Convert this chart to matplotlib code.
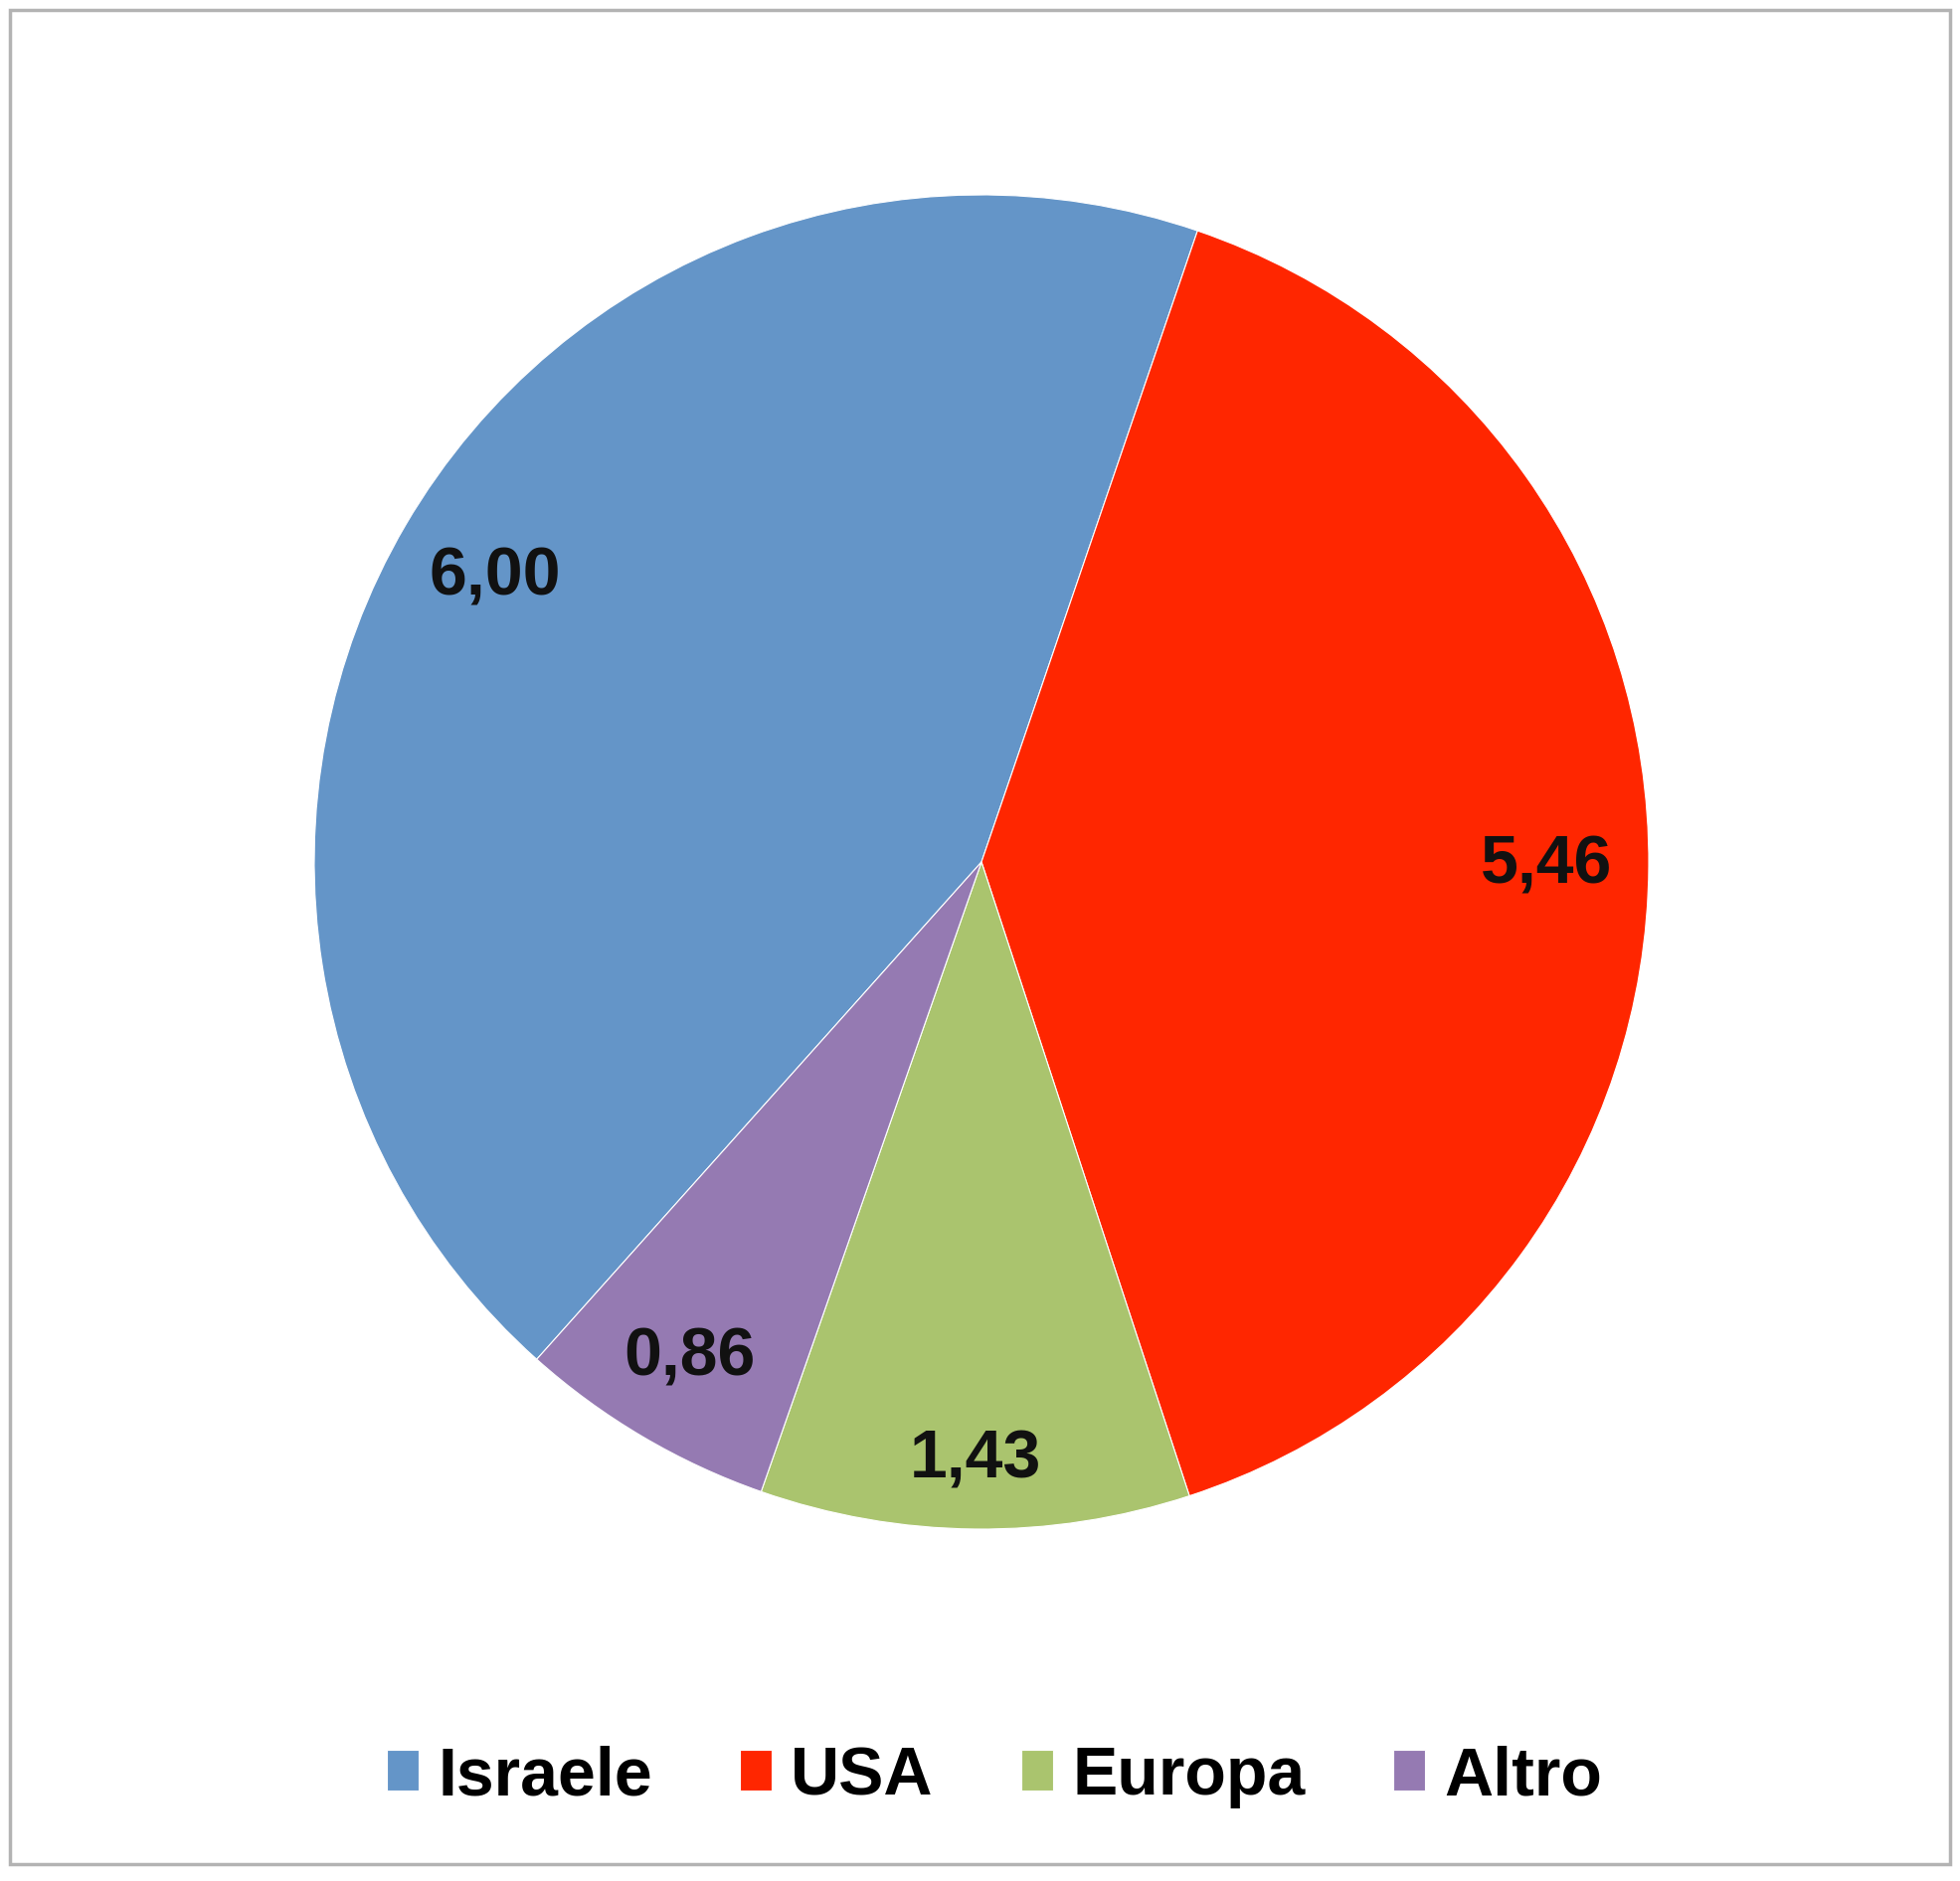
import numpy as np
import matplotlib.pyplot as plt
from matplotlib.patches import Rectangle

## Data
labels = ['Israele', 'USA', 'Europa', 'Altro']
values = [6.00, 5.46, 1.43, 0.86]
colors = ['#6495c8', '#ff2600', '#aac46e', '#957ab2']
label_dist = [0.845, 0.846, 0.896, 0.862]

plt.rcParams['font.family'] = ['Liberation Sans', 'DejaVu Sans']

W, H = 1971, 1892
fig = plt.figure(figsize=(W / 100, H / 100), dpi=100)

## Outer gray frame
fig.patches.append(Rectangle((10 / W, 17 / H), 1951 / W, 1865 / H,
                             transform=fig.transFigure, fill=False,
                             edgecolor='#b3b3b3', linewidth=2.5))

## Pie axes: centre (987, 867) px, radius 671 px
cx, cy, r = 987, 867, 671
ax = fig.add_axes([(cx - r) / W, (H - cy - r) / H, 2 * r / W, 2 * r / H])
wedges, _ = ax.pie(values, colors=colors, startangle=228.2, counterclock=False,
                   radius=1, wedgeprops=dict(edgecolor='white', linewidth=0.8))
ax.set_xlim(-1, 1)
ax.set_ylim(-1, 1)
ax.set_aspect('equal')
ax.axis('off')

## Value labels with comma decimals
for w, v, d in zip(wedges, values, label_dist):
    ang = np.deg2rad((w.theta1 + w.theta2) / 2)
    ax.text(d * np.cos(ang), d * np.sin(ang), f'{v:.2f}'.replace('.', ','),
            ha='center', va='center', fontsize=49, fontweight='bold',
            color='#111111')

## Legend at bottom
fig.legend(wedges, labels, loc='center', bbox_to_anchor=(1000 / W, 1 - 1787 / H),
           ncol=4, frameon=False, prop=dict(size=49, weight='bold'),
           handlelength=0.47, handleheight=0.55, handletextpad=0.28,
           columnspacing=1.3)

fig.savefig('out.png', dpi=100, facecolor='white')
